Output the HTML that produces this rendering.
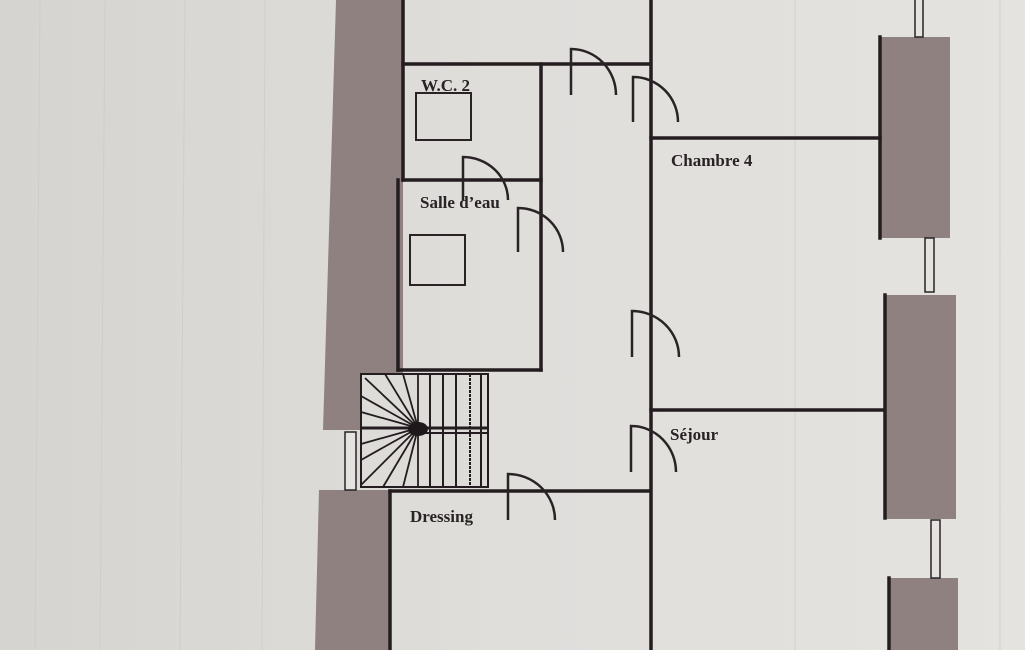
<!DOCTYPE html>
<html><head><meta charset="utf-8"><style>
html,body{margin:0;padding:0;width:1025px;height:650px;overflow:hidden;background:#dad9d5}
svg{display:block}
text{font-family:"Liberation Serif",serif;font-weight:bold;font-size:17px;fill:#2a2326}
</style></head><body>
<svg width="1025" height="650" viewBox="0 0 1025 650">
<defs>
<linearGradient id="bg" x1="0" x2="1" y1="0" y2="0">
<stop offset="0" stop-color="#d6d4d0"/><stop offset="0.5" stop-color="#e0dedb"/><stop offset="1" stop-color="#e4e3df"/>
</linearGradient>
</defs>
<rect width="1025" height="650" fill="url(#bg)"/>
<g stroke="#cfcbc8" stroke-width="1" opacity="0.8">
<line x1="40" y1="0" x2="35" y2="650"/><line x1="105" y1="0" x2="100" y2="650"/><line x1="185" y1="0" x2="180" y2="650"/><line x1="265" y1="0" x2="262" y2="650"/><line x1="795" y1="0" x2="795" y2="650"/><line x1="1000" y1="0" x2="1000" y2="650"/>
</g>
<!-- grey walls -->
<g fill="#8f817f">
<polygon points="336,0 403,0 403,373 360,373 360,430 323,430"/>
<polygon points="319,490 390,490 390,650 315,650"/>
<rect x="880" y="37" width="70" height="201"/>
<rect x="884" y="295" width="72" height="224"/>
<rect x="888" y="578" width="70" height="72"/>
</g>
<rect x="361" y="374" width="127" height="113" fill="#dedcd8"/>
<!-- windows -->
<g fill="#e4e3df" stroke="#2a2326" stroke-width="1.5">
<rect x="345" y="432" width="11" height="58"/>
<rect x="915" y="-2" width="8" height="39"/>
<rect x="925" y="238" width="9" height="54"/>
<rect x="931" y="520" width="9" height="58"/>
</g>
<!-- walls -->
<g stroke="#241d20" stroke-width="3.5" fill="none" stroke-linecap="square">
<line x1="403" y1="0" x2="403" y2="180"/>
<line x1="398" y1="180" x2="398" y2="370"/>
<line x1="403" y1="64" x2="650" y2="64"/>
<line x1="651" y1="0" x2="651" y2="650"/>
<line x1="541" y1="64" x2="541" y2="370"/>
<line x1="403" y1="180" x2="541" y2="180"/>
<line x1="398" y1="370" x2="541" y2="370"/>
<line x1="651" y1="138" x2="880" y2="138"/>
<line x1="651" y1="410" x2="884" y2="410"/>
<line x1="880" y1="37" x2="880" y2="238"/>
<line x1="885" y1="295" x2="885" y2="518"/>
<line x1="889" y1="578" x2="889" y2="650"/>
<line x1="390" y1="491" x2="650" y2="491"/>
<line x1="390" y1="491" x2="390" y2="650"/>
</g>
<!-- fixtures -->
<g stroke="#2a2326" stroke-width="2" fill="none">
<rect x="416" y="93" width="55" height="47"/>
<rect x="410" y="235" width="55" height="50"/>
</g>
<!-- doors -->
<g stroke="#2a2326" stroke-width="2.5" fill="none">
<path d="M571 95 V49 A45 46 0 0 1 616 95"/>
<path d="M633 122 V77 A45 45 0 0 1 678 122"/>
<path d="M463 200 V157 A45 43 0 0 1 508 200"/>
<path d="M518 252 V208 A45 44 0 0 1 563 252"/>
<path d="M632 357 V311 A47 46 0 0 1 679 357"/>
<path d="M631 472 V426 A45 46 0 0 1 676 472"/>
<path d="M508 520 V474 A47 46 0 0 1 555 520"/>
</g>
<!-- stairs -->
<g stroke="#241d20" stroke-width="2" fill="none">
<rect x="361" y="374" width="127" height="113"/>
<line x1="361" y1="428" x2="488" y2="428" stroke-width="3"/>
<line x1="418" y1="433" x2="488" y2="433"/>
<line x1="430" y1="374" x2="430" y2="487"/><line x1="443" y1="374" x2="443" y2="487"/><line x1="456" y1="374" x2="456" y2="487"/><line x1="470" y1="374" x2="470" y2="487" stroke-dasharray="3 1"/><line x1="481" y1="374" x2="481" y2="487"/>
<g stroke-width="1.8">
<line x1="418" y1="428" x2="365" y2="378"/><line x1="418" y1="428" x2="385" y2="374"/><line x1="418" y1="428" x2="403" y2="374"/><line x1="418" y1="428" x2="418" y2="374"/>
<line x1="418" y1="428" x2="361" y2="396"/><line x1="418" y1="428" x2="361" y2="412"/>
<line x1="418" y1="428" x2="361" y2="444"/><line x1="418" y1="428" x2="361" y2="460"/><line x1="418" y1="428" x2="361" y2="485"/><line x1="418" y1="428" x2="383" y2="487"/><line x1="418" y1="428" x2="403" y2="487"/><line x1="418" y1="428" x2="418" y2="487"/>
</g>
</g>
<ellipse cx="418" cy="429" rx="10" ry="7" fill="#1e181a"/>
<!-- labels -->
<text x="421" y="91">W.C. 2</text>
<text x="420" y="208">Salle d’eau</text>
<text x="671" y="166">Chambre 4</text>
<text x="670" y="440">Séjour</text>
<text x="410" y="522">Dressing</text>
</svg>
</body></html>
